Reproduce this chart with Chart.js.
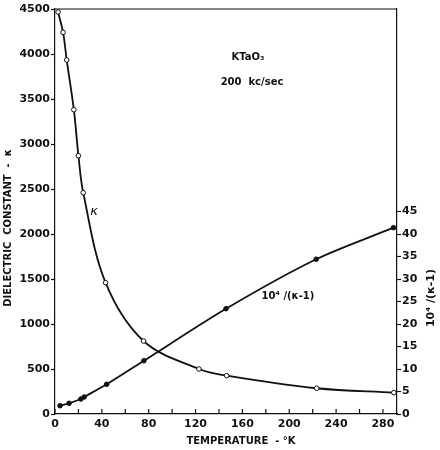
<!DOCTYPE html>
<html>
<head>
<meta charset="utf-8">
<script src="https://cdn.jsdelivr.net/npm/chart.js@4/dist/chart.umd.min.js"></script>
<style>
  html, body { margin: 0; padding: 0; background: #fff; }
  #wrap { width: 440px; height: 450px; }
</style>
</head>
<body>
<div id="wrap"><canvas id="chart" width="440" height="450"></canvas></div>
<script>
// dielectric constant (open circles)
const kappaTemps = [2.6, 6.9, 10.0, 16.1, 20.0, 24.1, 43.2, 75.6, 122.9, 146.6, 223.4, 289.3];
const kappaValues = [4467, 4241, 3933, 3381, 2870, 2459, 1459, 811, 500, 426, 286, 237];

// 10^4/(k-1) (filled circles)
const inverseTemps = [4.3, 12.0, 22.1, 24.9, 44.1, 75.9, 146.0, 223.0, 289.0];
const inverseValues = [1.84, 2.38, 3.33, 3.78, 6.6, 11.84, 23.4, 34.4, 41.4];

const xTicks = [0, 20, 40, 60, 80, 100, 120, 140, 160, 180, 200, 220, 240, 260, 280];
const leftTicks = [0, 500, 1000, 1500, 2000, 2500, 3000, 3500, 4000, 4500];
const rightTicks = [0, 5, 10, 15, 20, 25, 30, 35, 40, 45];

const FONT = '"DejaVu Sans", sans-serif';
const INK = '#111';

function pairs(xs, ys) {
    return xs.map((x, i) => ({ x, y: ys[i] }));
}

function vText(ctx, text, x, y) {
    ctx.save();
    ctx.translate(x, y);
    ctx.rotate(-Math.PI / 2);
    ctx.fillText(text, 0, 0);
    ctx.restore();
}

const decorPlugin = {
    id: 'decor',
    afterDraw(chart) {
        const { ctx, chartArea: a, scales } = chart;
        ctx.save();
        ctx.strokeStyle = INK;
        ctx.fillStyle = INK;
        ctx.lineWidth = 1.2;

        // top frame
        ctx.beginPath();
        ctx.moveTo(a.left, a.top);
        ctx.lineTo(a.right, a.top);
        ctx.stroke();

        // x ticks pointing inward
        ctx.beginPath();
        xTicks.forEach(v => {
            const px = scales.x.getPixelForValue(v);
            ctx.moveTo(px, a.bottom);
            ctx.lineTo(px, a.bottom - 5);
        });
        ctx.stroke();

        // axis titles
        ctx.textAlign = 'center';
        ctx.textBaseline = 'middle';
        ctx.font = 'bold 10px ' + FONT;
        vText(ctx, 'DIELECTRIC  CONSTANT  -  κ', 8, 228);
        ctx.fillText('TEMPERATURE  - °K', 241, 441);

        // right title
        ctx.font = 'bold 11px ' + FONT;
        vText(ctx, '10⁴ /(κ-1)', 431, 298);

        // annotations
        ctx.font = 'bold 10px ' + FONT;
        ctx.fillText('KTaO₃', 248, 57);
        ctx.fillText('200  kc/sec', 252, 82);
        ctx.font = 'italic 13px ' + FONT;
        ctx.fillText('κ', 94, 212);
        ctx.font = 'bold 10px ' + FONT;
        ctx.fillText('10⁴ /(κ-1)', 288, 296);
        ctx.restore();
    }
};

const tickFont = { family: FONT, size: 11, weight: 'bold' };

new Chart(document.getElementById('chart'), {
    type: 'line',
    data: {
        datasets: [{
            label: 'κ',
            data: pairs(kappaTemps, kappaValues),
            yAxisID: 'y',
            borderColor: INK,
            borderWidth: 1.8,
            tension: 0.35,
            pointRadius: 2.3,
            pointBorderWidth: 1,
            pointBackgroundColor: '#fff',
            pointBorderColor: INK
        }, {
            label: '10⁴/(κ-1)',
            data: pairs(inverseTemps, inverseValues),
            yAxisID: 'y2',
            borderColor: INK,
            borderWidth: 1.8,
            tension: 0.3,
            pointRadius: 2.3,
            pointBorderWidth: 1,
            pointBackgroundColor: INK,
            pointBorderColor: INK
        }]
    },
    options: {
        responsive: false,
        animation: false,
        layout: { padding: { top: 9 } },
        plugins: { legend: { display: false }, tooltip: { enabled: false } },
        scales: {
            x: {
                type: 'linear',
                min: 0,
                max: 292,
                afterBuildTicks: s => { s.ticks = xTicks.map(v => ({ value: v })); },
                afterFit: s => { s.height = 36; },
                grid: { display: false, drawTicks: false },
                border: { display: true, color: INK, width: 1.2 },
                ticks: {
                    color: INK,
                    padding: 4,
                    maxRotation: 0,
                    autoSkip: false,
                    font: tickFont,
                    callback: v => (v % 40 === 0 ? String(v) : '')
                }
            },
            y: {
                position: 'left',
                min: 0,
                max: 4500,
                afterBuildTicks: s => { s.ticks = leftTicks.map(v => ({ value: v })); },
                afterFit: s => { s.width = 55; },
                grid: { drawOnChartArea: false, color: INK, tickLength: 4, tickWidth: 1.2 },
                border: { display: true, color: INK, width: 1.2 },
                ticks: { color: INK, padding: 1, font: tickFont, callback: v => String(v) }
            },
            y2: {
                position: 'right',
                min: 0,
                max: 90,
                afterBuildTicks: s => { s.ticks = rightTicks.map(v => ({ value: v })); },
                afterFit: s => { s.width = 43; },
                grid: { drawOnChartArea: false, color: INK, tickLength: 4, tickWidth: 1.2 },
                border: { display: true, color: INK, width: 1.2 },
                ticks: { color: INK, padding: 1, font: tickFont, callback: v => String(v) }
            }
        }
    },
    plugins: [decorPlugin]
});
</script>
</body>
</html>
